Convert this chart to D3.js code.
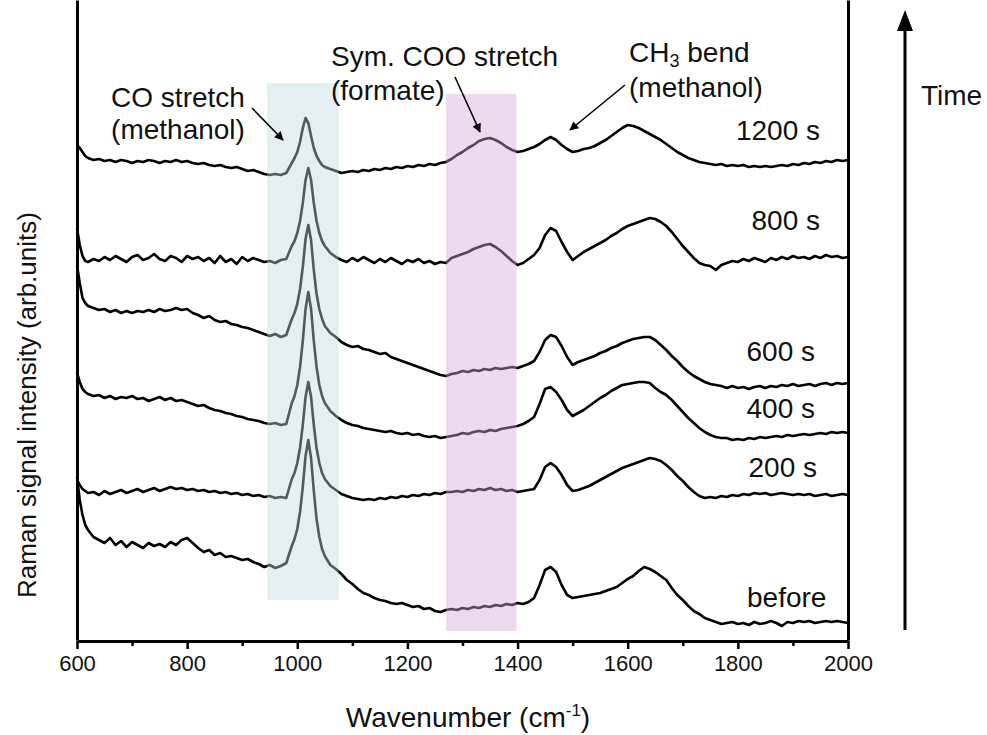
<!DOCTYPE html>
<html>
<head>
<meta charset="utf-8">
<script src="https://cdn.jsdelivr.net/npm/d3@7"></script>
<style>
  html, body { margin: 0; padding: 0; background: #ffffff; }
  svg { display: block; font-family: "Liberation Sans", Arial, Helvetica, sans-serif; }
</style>
</head>
<body>
<svg id="chart" width="987" height="735"></svg>
<script>
// Raman shift grid (cm-1); finer sampling around the CO stretch peak
const wavenumber = [
  600, 605, 610, 615, 620,
  630, 640, 650, 660, 670, 680, 690, 700, 710, 720, 730, 740, 750, 760, 770, 780, 790, 800,
  810, 820, 830, 840, 850, 860, 870, 880, 890, 900, 910, 920, 930, 940, 950, 960, 970, 980,
  990, 995, 1000, 1005, 1010, 1015, 1020, 1025, 1030, 1035, 1040, 1045, 1050,
  1060, 1070, 1080, 1090, 1100, 1110, 1120, 1130, 1140, 1150, 1160, 1170, 1180, 1190, 1200,
  1210, 1220, 1230, 1240, 1250, 1260, 1270,
  1280, 1290, 1300, 1310, 1320, 1330, 1340, 1350, 1360, 1370, 1380, 1390, 1400, 1410, 1420,
  1430, 1440, 1450, 1460, 1470, 1480, 1490, 1500, 1510, 1520, 1530, 1540, 1550, 1560, 1570,
  1580, 1590, 1600, 1610, 1620, 1630, 1640, 1650, 1660, 1670, 1680, 1690, 1700, 1710, 1720,
  1730, 1740, 1750, 1760, 1770, 1780, 1790, 1800, 1810, 1820, 1830, 1840, 1850, 1860, 1870,
  1880, 1890, 1900, 1910, 1920, 1930, 1940, 1950, 1960, 1970, 1980, 1990, 2000
];

// Stacked (offset) spectra, arbitrary intensity units
const spectrumBefore = [
  163, 140, 125, 115, 110,
  103, 100, 97, 102, 95, 99, 93, 98, 95, 92, 97, 94, 96, 93, 98, 95, 100, 102,
  97, 92, 88, 90, 85, 87, 83, 84, 82, 80, 81, 78, 76, 73, 75, 72, 74, 77,
  94, 101, 111, 128, 153, 184, 200, 182, 149, 121, 103, 91, 84,
  75, 71, 66, 60, 56, 51, 47, 45, 42, 40, 39, 37, 36, 37, 35, 33, 34, 31, 32, 29, 28, 30,
  31, 30, 32, 31, 33, 32, 34, 33, 35, 34, 36, 35, 37, 36, 38,
  42, 55, 70, 73, 68, 55, 45, 42, 43, 44, 45, 46, 47, 49, 51,
  53, 57, 61, 64, 69, 73, 71, 68, 64, 60, 52, 45, 40, 34, 29,
  26, 22, 20, 18, 16, 17, 18, 16, 17, 15, 18, 16, 17, 19, 17,
  14, 18, 17, 19, 18, 19, 17, 18, 19, 18, 19, 18, 17
];

const spectrum200s = [
  160, 155, 151, 149, 147,
  148, 145, 149, 146, 148, 150, 147, 149, 151, 148, 150, 152, 149, 151, 153, 151, 152, 150,
  151, 149, 150, 148, 149, 147, 148, 146, 147, 145, 146, 144, 145, 143, 144, 142, 143, 142,
  161, 167, 177, 192, 215, 243, 258, 243, 215, 192, 177, 167, 161,
  154, 150, 146, 144, 142, 141, 140, 141, 140, 142, 141, 143, 142, 144, 143, 145, 144, 146, 145, 147, 146, 148,
  148, 149, 148, 150, 149, 151, 150, 152, 150, 151, 149, 150, 148, 149, 150,
  151, 160, 173, 177, 173, 165, 155, 149, 150, 152, 154, 157, 160, 163, 166,
  169, 172, 174, 176, 178, 180, 182, 181, 179, 175, 170, 164, 159, 153, 148,
  144, 142, 143, 142, 144, 143, 145, 144, 146, 145, 147, 146, 147, 145, 146,
  147, 146, 145, 146, 145, 146, 144, 145, 146, 144, 145, 146, 145
];

const spectrum400s = [
  267, 258, 251, 248, 246,
  244, 245, 242, 244, 241, 243, 242, 244, 241, 242, 239, 241, 243, 240, 242, 239, 240, 238,
  236, 234, 235, 232, 230, 229, 227, 226, 224, 223, 221, 220, 219, 217, 216, 217, 215, 216,
  237, 244, 255, 273, 299, 331, 348, 331, 299, 273, 255, 244, 237,
  229, 224, 220, 217, 215, 214, 212, 211, 210, 209, 208, 209, 207, 206, 207, 205, 206, 204, 203, 204, 202, 203,
  204, 205, 207, 206, 208, 209, 208, 210, 209, 211, 212, 213, 214, 216, 219,
  223, 236, 251, 253, 248, 240, 230, 224, 227, 230, 234, 238, 242, 245, 249,
  252, 255, 256, 257, 258, 258, 257, 252, 248, 245, 240, 234, 228, 222, 217,
  212, 208, 205, 203, 202, 202, 200, 201, 200, 202, 201, 203, 202, 203, 204,
  203, 205, 204, 205, 206, 205, 206, 207, 206, 208, 207, 208, 207
];

const spectrum600s = [
  375, 357, 342, 337, 334,
  332, 330, 331, 328, 330, 327, 329, 327, 329, 328, 330, 328, 331, 329, 330, 332, 330, 331,
  327, 325, 322, 324, 320, 318, 319, 316, 315, 313, 312, 310, 308, 306, 304, 306, 303, 305,
  321, 327, 336, 351, 373, 401, 415, 400, 370, 346, 331, 321, 314,
  307, 303, 298, 295, 293, 294, 291, 290, 288, 286, 287, 283, 281, 279, 277, 275, 273, 271, 269, 267, 265, 264,
  266, 267, 269, 268, 270, 269, 271, 270, 272, 271, 272, 273, 272, 274, 276,
  279, 288, 300, 305, 303, 294, 283, 275, 278, 280, 282, 284, 287, 289, 292,
  294, 297, 299, 301, 302, 303, 303, 300, 295, 290, 284, 279, 273, 268, 264,
  261, 258, 256, 255, 254, 252, 254, 252, 253, 251, 253, 254, 252, 254, 253,
  255, 254, 256, 254, 255, 256, 254, 256, 257, 255, 257, 256, 257
];

const spectrum800s = [
  412, 395, 384, 379, 378,
  381, 379, 383, 380, 384, 381, 378, 383, 385, 380, 382, 386, 381, 379, 384, 382, 378, 384,
  381, 383, 379, 382, 377, 384, 378, 381, 376, 383, 379, 382, 380, 378, 379, 377, 380, 381,
  394, 399, 407, 419, 437, 460, 472, 460, 437, 419, 407, 399, 394,
  387, 383, 380, 378, 382, 379, 383, 380, 377, 381, 378, 382, 379, 376, 380, 378, 381, 377, 379, 376, 378, 377,
  382, 384, 386, 388, 391, 393, 395, 396, 393, 389, 384, 379, 375, 377, 381,
  385, 392, 405, 412, 409, 398, 388, 380, 384, 388, 391, 394, 397, 400, 404,
  407, 411, 414, 416, 418, 420, 422, 421, 418, 414, 408, 401, 394, 388, 382,
  377, 375, 374, 370, 375, 377, 379, 378, 381, 379, 382, 380, 378, 382, 380,
  383, 381, 384, 382, 383, 381, 384, 382, 385, 383, 384, 382, 383
];

const spectrum1200s = [
  495, 492, 488, 484, 482,
  480, 481, 479, 480, 478, 480, 479, 477, 479, 478, 480, 479, 477, 479, 478, 480, 478, 479,
  477, 476, 477, 475, 474, 475, 473, 472, 473, 471, 469, 470, 468, 466, 465, 466, 465, 467,
  477, 482, 488, 498, 512, 522, 517, 504, 492, 484, 479, 475, 473,
  471, 469, 467, 468, 469, 468, 470, 469, 471, 470, 472, 471, 473, 472, 474, 473, 475, 474, 476, 475, 477, 478,
  481, 485, 488, 492, 495, 499, 501, 502, 500, 497, 493, 490, 488, 489, 491,
  493, 496, 500, 503, 500, 495, 491, 488, 489, 491, 492, 494, 497, 500, 504,
  508, 512, 515, 514, 512, 509, 506, 503, 500, 496, 492, 488, 485, 482, 480,
  478, 477, 476, 475, 476, 474, 475, 474, 475, 473, 474, 473, 474, 473, 474,
  475, 474, 476, 475, 477, 476, 478, 477, 479, 478, 480, 479, 480
];

const seriesNames = ["before", "200 s", "400 s", "600 s", "800 s", "1200 s"];
const seriesValues = [spectrumBefore, spectrum200s, spectrum400s, spectrum600s, spectrum800s, spectrum1200s];

const majorTicks = [600, 800, 1000, 1200, 1400, 1600, 1800, 2000];
const minorTicks = [700, 900, 1100, 1300, 1500, 1700, 1900];

// Highlighted spectral windows (cm-1) and their vertical extent (intensity units)
const bandRanges = [[945, 1075], [1270, 1398]];
const bandHeights = [[40, 557], [9, 546]];
const bandColors = ["rgb(190,216,222)", "rgb(212,168,218)"];

seriesValues.forEach((s, i) => {
  if (s.length !== wavenumber.length) console.error("length mismatch", seriesNames[i], s.length, wavenumber.length);
});

const svg = d3.select("#chart");
const plot = { left: 77, right: 848, top: 0, bottom: 640 };

const x = d3.scaleLinear().domain([600, 2000]).range([plot.left, plot.right]);
const y = d3.scaleLinear().domain([0, 640]).range([plot.bottom, plot.top]);

// Spectra
const line = d3.line()
  .x(d => x(d[0]))
  .y(d => y(d[1]));

const traces = svg.append("g").attr("class", "traces");
seriesValues.forEach((vals, i) => {
  traces.append("path")
    .datum(d3.zip(wavenumber, vals))
    .attr("d", line)
    .attr("fill", "none")
    .attr("stroke", "#000")
    .attr("stroke-width", 2.6)
    .attr("stroke-linejoin", "round");
});

// Translucent highlight bands laid over the spectra
svg.append("g").selectAll("rect")
  .data(bandRanges)
  .join("rect")
  .attr("x", d => x(d[0]))
  .attr("width", d => x(d[1]) - x(d[0]))
  .attr("y", (d, i) => y(bandHeights[i][1]))
  .attr("height", (d, i) => y(bandHeights[i][0]) - y(bandHeights[i][1]))
  .attr("fill", (d, i) => bandColors[i])
  .attr("fill-opacity", 0.42);

// Axes
const axisFont = "22px";
const gx = svg.append("g")
  .attr("transform", `translate(0,${plot.bottom + 1})`)
  .call(d3.axisBottom(x).tickValues(majorTicks).tickSize(8).tickSizeOuter(0).tickPadding(6).tickFormat(d3.format("d")));
gx.select(".domain").attr("stroke-width", 3);
gx.selectAll(".tick line").attr("stroke-width", 2.5);
gx.selectAll(".tick text")
  .attr("font-size", axisFont)
  .attr("font-family", "'Liberation Sans', Arial, sans-serif")
  .attr("fill", "#111");

const gxMinor = svg.append("g")
  .attr("transform", `translate(0,${plot.bottom + 1})`)
  .call(d3.axisBottom(x).tickValues(minorTicks).tickSize(5).tickSizeOuter(0).tickFormat(""));
gxMinor.select(".domain").remove();
gxMinor.selectAll(".tick line").attr("stroke-width", 2.5);

const gy = svg.append("g")
  .attr("transform", `translate(${plot.left},0)`)
  .call(d3.axisLeft(y).tickValues([]).tickSizeOuter(0));
gy.select(".domain").attr("stroke-width", 3);

const gyR = svg.append("g")
  .attr("transform", `translate(${plot.right},0)`)
  .call(d3.axisRight(y).tickValues([]).tickSizeOuter(0));
gyR.select(".domain").attr("stroke-width", 3);

// Axis titles
const xTitle = svg.append("text")
  .attr("x", 468).attr("y", 727)
  .attr("text-anchor", "middle")
  .attr("font-size", "28px")
  .attr("fill", "#111");
xTitle.append("tspan").text("Wavenumber (cm");
xTitle.append("tspan").text("-1").attr("font-size", "17px").attr("dy", -11);
xTitle.append("tspan").text(")").attr("dy", 11);

svg.append("text")
  .attr("transform", "translate(36,405) rotate(-90)")
  .attr("text-anchor", "middle")
  .attr("font-size", "26px")
  .attr("fill", "#111")
  .text("Raman signal intensity (arb.units)");

// Arrowhead marker
const defs = svg.append("defs");
defs.append("marker")
  .attr("id", "head")
  .attr("viewBox", "0 0 10 10")
  .attr("refX", 9).attr("refY", 5)
  .attr("markerWidth", 11).attr("markerHeight", 9)
  .attr("markerUnits", "userSpaceOnUse")
  .attr("orient", "auto")
  .append("path").attr("d", "M0,0 L10,5 L0,10 z").attr("fill", "#000");

// Peak annotations
const annoFont = "28px";
function label(xp, yp, anchor, parts) {
  const t = svg.append("text").attr("x", xp).attr("y", yp)
    .attr("text-anchor", anchor).attr("font-size", annoFont).attr("fill", "#111");
  parts.forEach(p => {
    const s = t.append("tspan").text(p.text);
    if (p.sub) s.attr("font-size", "18px").attr("dy", 5);
    if (p.back) s.attr("dy", -5);
  });
  return t;
}
label(178, 107, "middle", [{ text: "CO stretch" }]);
label(178, 139, "middle", [{ text: "(methanol)" }]);
label(331, 66, "start", [{ text: "Sym. COO stretch" }]);
label(331, 100, "start", [{ text: "(formate)" }]);
label(629, 62, "start", [{ text: "CH" }, { text: "3", sub: true }, { text: " bend", back: true }]);
label(629, 97, "start", [{ text: "(methanol)" }]);

const arrows = [
  [252, 108, 283, 140],
  [455, 77, 480, 132],
  [625, 85, 570, 130]
];
svg.append("g").selectAll("line").data(arrows).join("line")
  .attr("x1", d => d[0]).attr("y1", d => d[1])
  .attr("x2", d => d[2]).attr("y2", d => d[3])
  .attr("stroke", "#000").attr("stroke-width", 1.6)
  .attr("marker-end", "url(#head)");

// Series labels
const seriesLabelPos = [
  { x: 747, y: 607, anchor: "start" },
  { x: 817, y: 477, anchor: "end" },
  { x: 815, y: 418, anchor: "end" },
  { x: 815, y: 361, anchor: "end" },
  { x: 820, y: 230, anchor: "end" },
  { x: 820, y: 140, anchor: "end" }
];
seriesNames.forEach((n, i) => {
  const p = seriesLabelPos[i];
  svg.append("text").attr("x", p.x).attr("y", p.y)
    .attr("text-anchor", p.anchor).attr("font-size", annoFont).attr("fill", "#111")
    .text(n);
});

// Time arrow
svg.append("line")
  .attr("x1", 905).attr("x2", 905).attr("y1", 630).attr("y2", 28)
  .attr("stroke", "#000").attr("stroke-width", 3);
svg.append("path")
  .attr("d", "M905,10 L897,31 L913,31 Z")
  .attr("fill", "#000");
svg.append("text").attr("x", 921).attr("y", 105)
  .attr("font-size", annoFont).attr("fill", "#111").text("Time");
</script>
</body>
</html>
